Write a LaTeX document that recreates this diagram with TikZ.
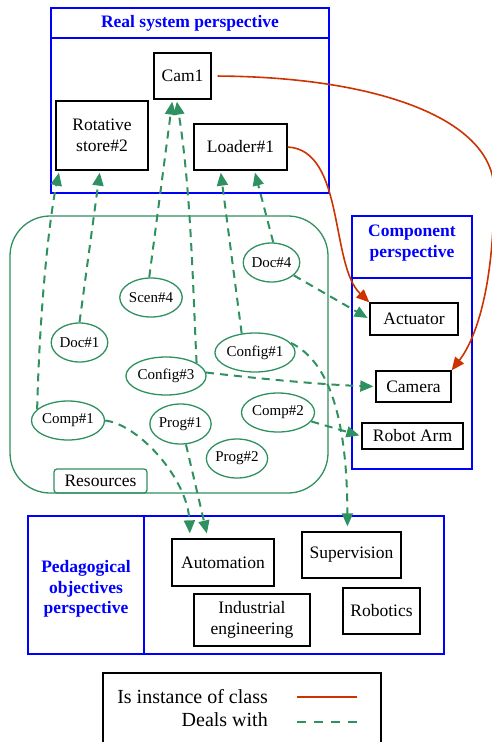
\documentclass[tikz,border=0pt]{standalone}
\usepackage{fontspec}
\setmainfont{Liberation Serif}
\usetikzlibrary{arrows.meta,shapes.geometric}
\definecolor{dgreen}{RGB}{46,145,95}
\definecolor{dred}{RGB}{204,51,0}
\definecolor{pblue}{RGB}{0,0,255}
\begin{document}
\begin{tikzpicture}[x=1pt,y=-1pt,
  box/.style={draw=black, line width=1.3pt, inner sep=0pt, align=center, font=\fontsize{17.5}{20.5}\selectfont},
  res/.style={ellipse, draw=dgreen, line width=1.3pt, inner sep=0pt, font=\fontsize{15}{18}\selectfont},
  persp/.style={draw=pblue, line width=1.8pt},
  titletext/.style={text=pblue, font=\bfseries\fontsize{17.5}{20.5}\selectfont, align=center},
  legtext/.style={anchor=east, inner sep=0pt, font=\fontsize{20}{24}\selectfont},
  deals/.style={draw=dgreen, line width=2pt, dash pattern=on 8pt off 6pt, shorten >=2pt, -{Triangle[length=13pt,width=11pt]}},
  inst/.style={draw=dred, line width=1.6pt, -{Triangle[length=13pt,width=11pt]}},
]
\useasboundingbox (0,0) rectangle (492,742);

% perspective frames
\draw[persp] (51,8) rectangle (329,193);
\draw[persp] (51,38) -- (329,38);
\node[titletext] (rtitle) at (190,23) {Real system perspective};

\draw[persp] (352,216) rectangle (472,469);
\draw[persp] (352,278) -- (472,278);
\node[titletext] (ctitle) at (412,243) {Component\\perspective};

\draw[pblue, line width=1.2pt] (144,516) rectangle (444,654);
\draw[pblue, line width=2.5pt] (28,516) rectangle (144,654);
\node[titletext] (pedtitle) at (86,589) {Pedagogical\\objectives\\perspective};

% resources
\draw[dgreen, line width=1.3pt, rounded corners=40pt] (10,216) rectangle (328,493);
\node[draw=dgreen, line width=1.3pt, rounded corners=3pt, minimum width=93pt, minimum height=24pt, inner sep=0pt, font=\fontsize{17.5}{20.5}\selectfont] (reslabel) at (100.5,481) {Resources};

% boxes
\node[box, minimum width=57pt, minimum height=46pt] (cam1) at (182.5,76) {Cam1};
\node[box, minimum width=92pt, minimum height=69pt] (rot) at (102,135.5) {Rotative\\store\#2};
\node[box, minimum width=93pt, minimum height=46pt] (loader) at (240.5,147) {Loader\#1};
\node[box, minimum width=88pt, minimum height=32pt] (act) at (414,319) {Actuator};
\node[box, minimum width=75pt, minimum height=31pt] (camera) at (413.5,386.5) {Camera};
\node[box, minimum width=101pt, minimum height=26pt] (robot) at (412.5,436) {Robot Arm};
\node[box, minimum width=102pt, minimum height=47pt] (auto) at (223,562.5) {Automation};
\node[box, minimum width=99pt, minimum height=46pt] (super) at (351.5,555) {Supervision};
\node[box, minimum width=116pt, minimum height=52pt] (indus) at (252,620) {Industrial\\engineering};
\node[box, minimum width=77pt, minimum height=46pt] (robotics) at (381.5,611) {Robotics};

% resource ellipses
\node[res, minimum width=55pt, minimum height=39pt] (doc4) at (271.5,262.5) {Doc\#4};
\node[res, minimum width=54pt, minimum height=39pt] (scen4) at (151,297.5) {Scen\#4};
\node[res, minimum width=55pt, minimum height=39pt] (doc1) at (79.5,342.5) {Doc\#1};
\node[res, minimum width=64pt, minimum height=39pt] (config1) at (255,352.5) {Config\#1};
\node[res, minimum width=72pt, minimum height=38pt] (config3) at (166,376) {Config\#3};
\node[res, minimum width=58pt, minimum height=39pt] (comp1) at (68,420.5) {Comp\#1};
\node[res, minimum width=55pt, minimum height=40pt] (prog1) at (180.5,424) {Prog\#1};
\node[res, minimum width=58pt, minimum height=39pt] (comp2) at (278,412.5) {Comp\#2};
\node[res, minimum width=54pt, minimum height=39pt] (prog2) at (237,458.5) {Prog\#2};

% deals with
\draw[deals] (comp1.160) .. controls (40,300) and (50,215) .. ([xshift=4pt]rot.south west);
\draw[deals] (doc1.north) -- ([xshift=-2pt]rot.south);
\draw[deals] (scen4.95) -- ([xshift=-10pt]cam1.south);
\draw[deals] (config3.23) .. controls (193,290) and (191,190) .. ([xshift=-6pt]cam1.south);
\draw[deals] (config1.125) -- ([xshift=-20pt]loader.south);
\draw[deals] (doc4.85) -- ([xshift=14pt]loader.south);
\draw[deals] (doc4.-30) -- (act.west);
\draw[deals] (config3.5) .. controls (270,380) and (330,385) .. (camera.west);
\draw[deals, shorten >=5pt] (config1.15) .. controls (330,362) and (347,420) .. ([xshift=-4pt]super.north);
\draw[deals] (comp2.-15) -- (robot.west);
\draw[deals, shorten >=5pt] (comp1.0) .. controls (140,425) and (188,480) .. ([xshift=-33pt]auto.north);
\draw[deals, shorten >=5pt] (prog1.-75) -- ([xshift=-15pt]auto.north);

% instance of class
\draw[inst, shorten <=6pt] (cam1.east) .. controls (380,77) and (494,120) .. (494,190) .. controls (494,290) and (475,340) .. (camera.north east);
\draw[inst] (loader.east) .. controls (345,150) and (330,265) .. (act.north west);

% legend
\draw[black, line width=2.3pt] (103,673) rectangle (381,770);
\node[legtext] (l1) at (268,697) {Is instance of class};
\node[legtext] (l2) at (268,720) {Deals with};
\coordinate (r1) at (297,697);
\coordinate (r2) at (357,697);
\coordinate (g1) at (297,722);
\coordinate (g2) at (357,722);
\draw[dred, line width=2pt] (r1) -- (r2);
\draw[dgreen, line width=2pt, dash pattern=on 9pt off 8pt] (g1) -- (g2);
\end{tikzpicture}
\end{document}
